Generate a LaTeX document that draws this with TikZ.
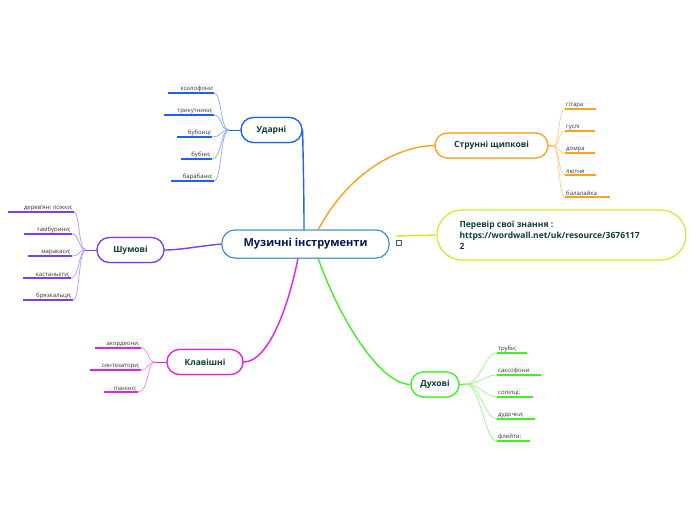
\documentclass[tikz,border=0pt]{standalone}
\usepackage{fontspec}
\setmainfont{Open Sans}
\definecolor{cblue}{HTML}{3A8FD0}
\definecolor{cud}{HTML}{1F5FFF}
\definecolor{csh}{HTML}{7A3CFF}
\definecolor{ckl}{HTML}{E81EE8}
\definecolor{cst}{HTML}{FFA020}
\definecolor{cpe}{HTML}{C8F020}
\definecolor{cdu}{HTML}{40F020}
\definecolor{ctx}{HTML}{103E3A}
\tikzset{
  br/.style={draw=#1, line width=1.2pt, rounded corners=12.5pt, minimum height=25pt, font=\bfseries\fontsize{8.5}{10}\selectfont, text=ctx, fill=white, inner sep=0pt},
  leaf/.style={inner sep=1pt, font=\fontsize{6}{7}\selectfont, text=black!80, anchor=south},
  ul/.style={draw=#1, line width=1.4pt},
  lk/.style={draw=#1!55, line width=0.7pt},
  mainc/.style={draw=#1, line width=1.4pt}
}
\newcommand\leafL[6]{% name, xR, y, w, text, color
  \node[leaf, text width=#4pt, align=right, anchor=south east] (#1) at (#2,#3) {#5};
  \draw[ul=#6] (#1.south west) -- (#1.south east);}
\newcommand\leafR[6]{% name, xL, y, w, text, color
  \node[leaf, text width=#4pt, align=left, anchor=south west] (#1) at (#2,#3) {#5};
  \draw[ul=#6] (#1.south west) -- (#1.south east);}
\begin{document}
\begin{tikzpicture}[x=1pt,y=-1pt]
\useasboundingbox (0,0) rectangle (696,520);
% central
\node[draw=cblue, line width=1pt, rounded corners=13pt, minimum width=167pt, minimum height=28pt, font=\bfseries\fontsize{11}{13}\selectfont, text=ctx!60!blue!60!black, fill=white] (c) at (305.5,244) {Музичні інструменти};
\node[draw=cblue!70!black, line width=0.5pt, minimum size=5pt, inner sep=0pt] (ic) at (399,243) {};
% branches
\node[br=cud, minimum width=61pt] (ud) at (271.5,130) {Ударні};
\node[br=csh, minimum width=67pt] (sh) at (130.5,250) {Шумові};
\node[br=ckl, minimum width=76pt] (kl) at (205,362) {Клавішні};
\node[br=cst, minimum width=113pt] (st) at (491.5,145.5) {Струнні щипкові};
\node[br=cdu, minimum width=48pt] (du) at (435,384.5) {Духові};
\node[draw=cpe, line width=1.2pt, rounded corners=25pt, minimum width=249pt, minimum height=50pt, fill=white, inner sep=0pt] (pe) at (561.5,235) {};
\node[anchor=west, align=left, font=\bfseries\fontsize{8.5}{11}\selectfont, text=ctx] (pet) at (456,235) {Перевір свої знання :\\https://wordwall.net/uk/resource/3676117\\2};
% main connectors
\begin{scope}[on background layer/.style={}]
\draw[mainc=cud] (c.north) ++(0,0) coordinate (c1);
\end{scope}
\coordinate (cu) at (304,230);
\coordinate (cs) at (318,230);
\coordinate (ck) at (298,258);
\coordinate (cd) at (318,258);
\draw[mainc=cud] (cu) .. controls (304,190) and (303,150) .. (ud.east);
\draw[mainc=csh] (c.west) .. controls (200,246) and (180,250) .. (sh.east);
\draw[mainc=ckl] (ck) .. controls (290,300) and (270,362) .. (kl.east);
\draw[mainc=cst] (cs) .. controls (350,170) and (400,146) .. (st.west);
\draw[mainc=cdu] (cd) .. controls (340,320) and (380,384) .. (du.west);
\draw[draw=cpe, line width=1.4pt] (c.east) ++(6,-8) coordinate (pp) -- (pe.west);
% redraw nodes on top
\node[draw=cblue, line width=1pt, rounded corners=13pt, minimum width=167pt, minimum height=28pt, font=\bfseries\fontsize{11}{13}\selectfont, text=ctx!60!blue!60!black, fill=white] at (c) {Музичні інструменти};
\node[br=cud, minimum width=61pt] at (ud) {Ударні};
\node[br=csh, minimum width=67pt] at (sh) {Шумові};
\node[br=ckl, minimum width=76pt] at (kl) {Клавішні};
\node[br=cst, minimum width=113pt] at (st) {Струнні щипкові};
\node[br=cdu, minimum width=48pt] at (du) {Духові};
% leaves Ударні
\coordinate (hu) at (229,130);
\leafL{u1}{214}{93}{44}{ксилофони}{cud}
\leafL{u2}{214}{115}{48}{трикутники;}{cud}
\leafL{u3}{212}{137}{33}{бубонці}{cud}
\leafL{u4}{212}{159}{29}{бубни;}{cud}
\leafL{u5}{214}{181}{41}{барабани;}{cud}
\draw[mainc=cud,line width=1pt] (ud.west) -- (hu);
\foreach \n in {u1,u2,u3,u4,u5} \draw[lk=cud] (hu) .. controls (220,130) and (222,0|-\n.south east) .. (\n.south east);
% Шумові
\coordinate (hs) at (86,250);
\leafL{s1}{74}{212}{64}{дерев'яні ложки;}{csh}
\leafL{s2}{72}{234}{46}{тамбурини;}{csh}
\leafL{s3}{72}{256}{42}{маракаси;}{csh}
\leafL{s4}{71}{278}{46}{кастаньєти;}{csh}
\leafL{s5}{73}{300}{48}{брязкальця;}{csh}
\draw[mainc=csh,line width=1pt] (sh.west) -- (hs);
\foreach \n in {s1,s2,s3,s4,s5} \draw[lk=csh] (hs) .. controls (78,250) and (80,0|-\n.south east) .. (\n.south east);
% Клавішні
\coordinate (hk) at (155,362);
\leafL{k1}{141}{348}{44}{акордеони.}{ckl}
\leafL{k2}{141}{370}{49}{синтезатори;}{ckl}
\leafL{k3}{138}{392}{32}{піаніно;}{ckl}
\draw[mainc=ckl,line width=1pt] (kl.west) -- (hk);
\foreach \n in {k1,k2,k3} \draw[lk=ckl] (hk) .. controls (147,362) and (149,0|-\n.south east) .. (\n.south east);
% Струнні
\coordinate (hst) at (553,146);
\leafR{t1}{565}{109}{29}{гітара}{cst}
\leafR{t2}{565}{131}{28}{гуслі}{cst}
\leafR{t3}{565}{153}{28}{домра}{cst}
\leafR{t4}{565}{175}{29}{лютня}{cst}
\leafR{t5}{565}{197}{43}{балалайка}{cst}
\draw[mainc=cst,line width=1pt] (st.east) -- (hst);
\foreach \n in {t1,t2,t3,t4,t5} \draw[lk=cst] (hst) .. controls (560,146) and (558,0|-\n.south west) .. (\n.south west);
% Духові
\coordinate (hd) at (466,384);
\leafR{d1}{497}{353}{28}{труби;}{cdu}
\leafR{d2}{497}{375}{42}{саксофони}{cdu}
\leafR{d3}{497}{397}{34}{сопілці;}{cdu}
\leafR{d4}{497}{419}{36}{дудочки;}{cdu}
\leafR{d5}{497}{441}{31}{флейти;}{cdu}
\draw[mainc=cdu,line width=1pt] (du.east) -- (hd);
\foreach \n in {d1,d2,d3,d4,d5} \draw[lk=cdu] (hd) .. controls (480,384) and (485,0|-\n.south west) .. (\n.south west);
\end{tikzpicture}
\end{document}
